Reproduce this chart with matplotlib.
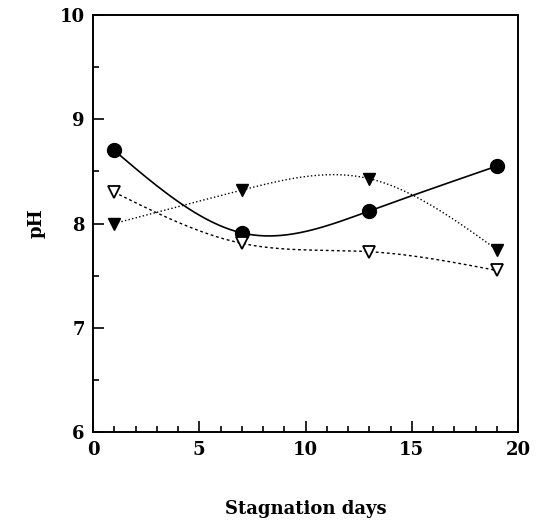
import numpy as np
import matplotlib.pyplot as plt
from matplotlib.ticker import MultipleLocator

# values
days = [1, 7, 13, 19]
ph_circle = [8.70, 7.91, 8.12, 8.55]
ph_filled_tri = [8.00, 8.32, 8.43, 7.75]
ph_open_tri = [8.30, 7.81, 7.73, 7.55]


def natural_spline(x, y, n=200):
    # natural cubic spline through the measured points, used only to draw the curve
    x = np.asarray(x, float)
    y = np.asarray(y, float)
    k = len(x)
    h = np.diff(x)
    A = np.zeros((k, k))
    b = np.zeros(k)
    A[0, 0] = A[-1, -1] = 1
    for i in range(1, k - 1):
        A[i, i - 1] = h[i - 1]
        A[i, i] = 2 * (h[i - 1] + h[i])
        A[i, i + 1] = h[i]
        b[i] = 3 * ((y[i + 1] - y[i]) / h[i] - (y[i] - y[i - 1]) / h[i - 1])
    c = np.linalg.solve(A, b)
    xs = np.linspace(x[0], x[-1], n)
    idx = np.clip(np.searchsorted(x, xs) - 1, 0, k - 2)
    dx = xs - x[idx]
    bb = (y[idx + 1] - y[idx]) / h[idx] - h[idx] * (2 * c[idx] + c[idx + 1]) / 3
    d = (c[idx + 1] - c[idx]) / (3 * h[idx])
    return xs, y[idx] + bb * dx + c[idx] * dx ** 2 + d * dx ** 3


plt.rcParams['font.family'] = ['DejaVu Serif']

fig = plt.figure(figsize=(5.57, 5.29), dpi=100)
ax = fig.add_axes([0.167, 0.183, 0.763, 0.789])

series = [
    (ph_circle, '-', 1.2, dict(marker='o', ms=10, mfc='black', mec='black')),
    (ph_filled_tri, ':', 1.0, dict(marker='v', ms=9, mfc='black', mec='black')),
    (ph_open_tri, (0, (2, 2)), 1.0, dict(marker='v', ms=9, mfc='white', mec='black', mew=1.3)),
]
for vals, ls, lw, mk in series:
    xs, ys = natural_spline(days, vals)
    ax.plot(xs, ys, color='black', linestyle=ls, linewidth=lw)
    ax.plot(days, vals, linestyle='none', zorder=3, **mk)

ax.set_xlim(0, 20)
ax.set_ylim(6, 10)
ax.xaxis.set_major_locator(MultipleLocator(5))
ax.xaxis.set_minor_locator(MultipleLocator(1))
ax.yaxis.set_major_locator(MultipleLocator(1))
ax.yaxis.set_minor_locator(MultipleLocator(0.5))
ax.tick_params(which='both', direction='in', top=False, right=False, width=1.2)
ax.tick_params(which='major', length=8, labelsize=13, pad=6)
ax.tick_params(which='minor', length=4)
for lbl in ax.get_xticklabels() + ax.get_yticklabels():
    lbl.set_fontweight('bold')
for sp in ax.spines.values():
    sp.set_linewidth(1.4)

ax.set_xlabel('Stagnation days', fontsize=13, fontweight='bold', labelpad=30)
ax.set_ylabel('pH', fontsize=13, fontweight='bold', labelpad=10)

fig.savefig('out.png', dpi=100)
